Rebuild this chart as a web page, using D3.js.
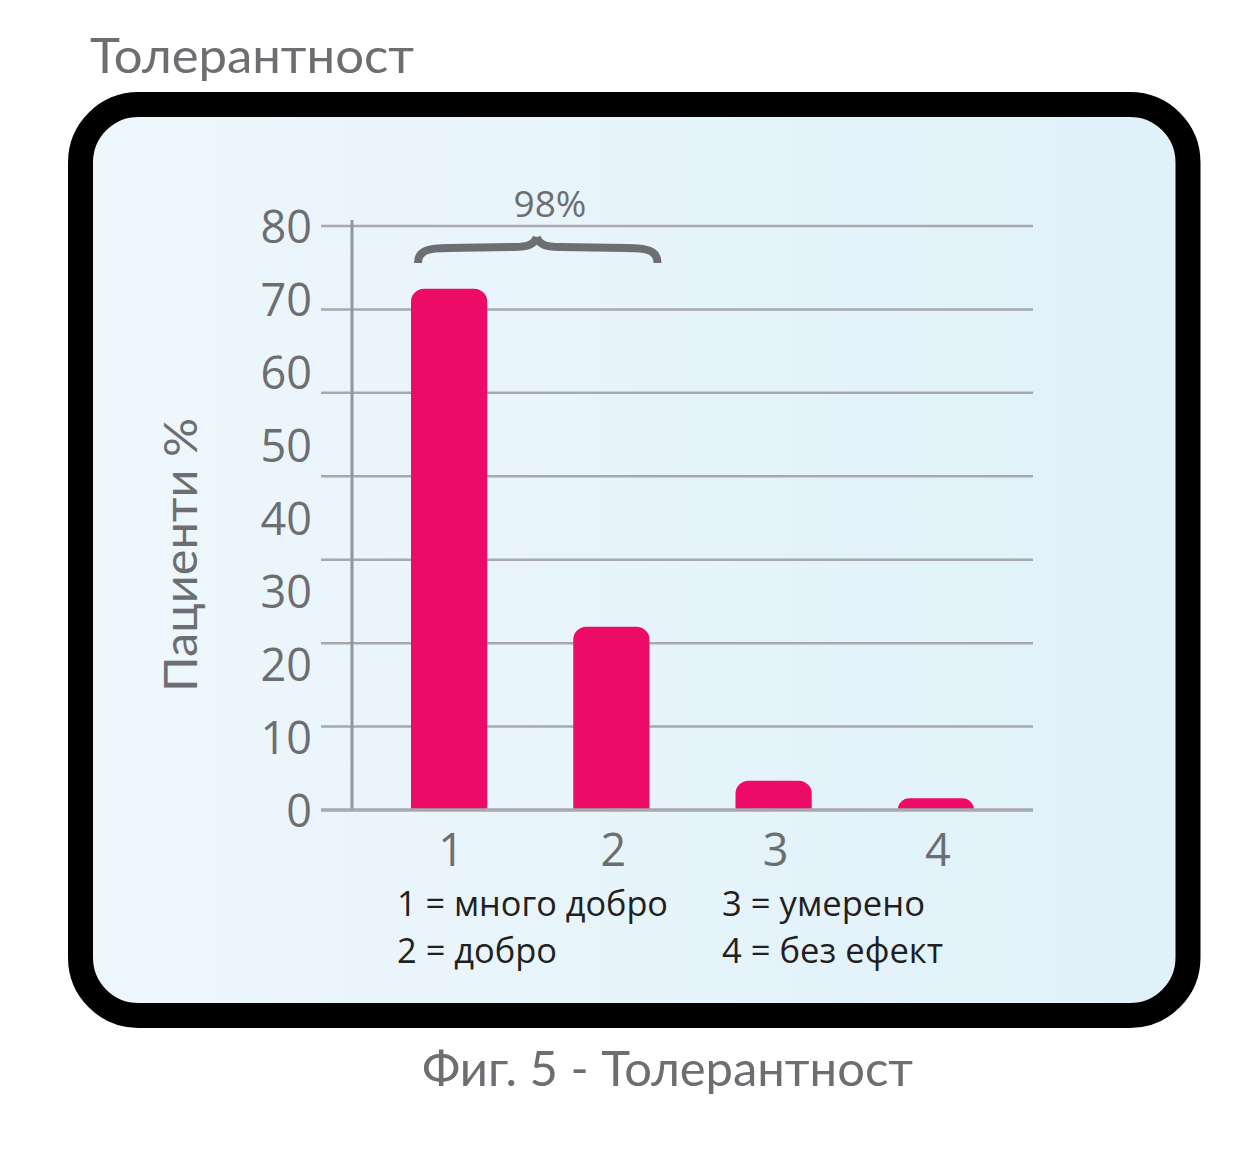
<!DOCTYPE html>
<html>
<head>
<meta charset="utf-8">
<script src="https://cdn.jsdelivr.net/npm/d3@7"></script>
<style>
  html, body { margin: 0; padding: 0; background: #ffffff; }
  svg { display: block; }
</style>
</head>
<body>
<script>
// ---- data ----
const categories = ["1", "2", "3", "4"];
const values = [71.4, 25.1, 4.0, 1.6];
const yTicks = [0, 10, 20, 30, 40, 50, 60, 70, 80];
const legendLeft = ["1 = много добро", "2 = добро"];
const legendRight = ["3 = умерено", "4 = без ефект"];
const titleText = "Толерантност";
const captionText = "Фиг. 5 - Толерантност";
const yAxisTitle = "Пациенти %";
const braceLabel = "98%";

// ---- layout ----
const W = 1251, H = 1160;
const gray = "#6d6e71", gridColor = "#a7a9ac", barColor = "#ec0c68";

const svg = d3.select("body").append("svg").attr("width", W).attr("height", H);
const defs = svg.append("defs");
const grad = defs.append("linearGradient").attr("id", "bg").attr("x1", 0).attr("x2", 1).attr("y1", 0).attr("y2", 0);
grad.append("stop").attr("offset", 0).attr("stop-color", "#eef7fc");
grad.append("stop").attr("offset", 1).attr("stop-color", "#dff1f9");

// framed panel
svg.append("rect").attr("x", 80.5).attr("y", 104.5).attr("width", 1107.5).attr("height", 911)
  .attr("rx", 58).attr("ry", 58).attr("fill", "url(#bg)").attr("stroke", "#000").attr("stroke-width", 25);

// titles
svg.append("text").attr("x", 90).attr("y", 73).text(titleText)
  .attr("font-family", "Lato, 'Open Sans', sans-serif").attr("font-size", 48).attr("fill", gray)
  .attr("textLength", 324).attr("lengthAdjust", "spacingAndGlyphs");
svg.append("text").attr("x", 422).attr("y", 1086).text(captionText)
  .attr("font-family", "Lato, 'Open Sans', sans-serif").attr("font-size", 48).attr("fill", gray)
  .attr("textLength", 491).attr("lengthAdjust", "spacingAndGlyphs");

// scales
const y = d3.scaleLinear().domain([0, 80]).range([810, 226]);
const x = d3.scaleBand().domain(categories).range([368, 1017]).paddingInner(0.53).paddingOuter(0.265);
const gridLeft = 321, gridRight = 1033, axisX = 352;

// gridlines: 8 evenly spaced lines spanning the axis
const gridN = 7;
const gridVals = d3.range(gridN + 1).map(i => i * 80 / gridN);
svg.append("g").selectAll("line").data(gridVals.filter(v => v > 0)).join("line")
  .attr("x1", gridLeft).attr("x2", gridRight)
  .attr("y1", d => y(d)).attr("y2", d => y(d))
  .attr("stroke", gridColor).attr("stroke-width", 2.5);

// y axis vertical
svg.append("line").attr("x1", axisX).attr("x2", axisX).attr("y1", y(80) - 6).attr("y2", y(0))
  .attr("stroke", "#939598").attr("stroke-width", 3);

// y tick labels
svg.append("g").selectAll("text").data(yTicks).join("text")
  .attr("x", 312).attr("y", d => y(d) + 1).attr("dy", "0.35em")
  .attr("text-anchor", "end").attr("font-family", "'Open Sans', sans-serif")
  .attr("font-size", 45).attr("fill", gray).text(d => d);

// bars with rounded tops
function barPath(x0, y0, w, h, r) {
  r = Math.min(r, h, w / 2);
  return `M${x0},${y0 + h}V${y0 + r}A${r},${r} 0 0 1 ${x0 + r},${y0}H${x0 + w - r}A${r},${r} 0 0 1 ${x0 + w},${y0 + r}V${y0 + h}Z`;
}
svg.append("g").selectAll("path").data(values).join("path")
  .attr("d", (d, i) => barPath(x(categories[i]), y(d), x.bandwidth(), y(0) - y(d), 13))
  .attr("fill", barColor);

// x axis line
svg.append("line").attr("x1", gridLeft).attr("x2", gridRight).attr("y1", y(0)).attr("y2", y(0))
  .attr("stroke", gridColor).attr("stroke-width", 3.5);

// x tick labels
svg.append("g").selectAll("text").data(categories).join("text")
  .attr("x", d => x(d) + x.bandwidth() / 2 + 2).attr("y", 866)
  .attr("text-anchor", "middle").attr("font-family", "'Open Sans', sans-serif")
  .attr("font-size", 45).attr("fill", gray).text(d => d);

// y axis title
svg.append("text").attr("transform", "translate(197,555) rotate(-90)")
  .attr("text-anchor", "middle").attr("font-family", "Lato, 'Open Sans', sans-serif")
  .attr("font-size", 46).attr("fill", gray).text(yAxisTitle)
  .attr("textLength", 274).attr("lengthAdjust", "spacingAndGlyphs");

// brace over bars 1 and 2
const bL = x(categories[0]) + 7, bR = x(categories[1]) + x.bandwidth() + 8;
const bC = (bL + bR) / 2 - 1;
const tipY = y(0) - 547, armY = tipY - 15, peakY = tipY - 26;
const bracePath = `M${bL},${tipY} C${bL},${armY + 2} ${bL + 11},${armY} ${bL + 31},${armY}`
  + ` L${bC - 23},${armY - 1} C${bC - 8},${armY - 1} ${bC - 2},${armY - 4} ${bC},${peakY}`
  + ` M${bC},${peakY} C${bC + 2},${armY - 4} ${bC + 8},${armY - 1} ${bC + 23},${armY - 1}`
  + ` L${bR - 31},${armY} C${bR - 11},${armY} ${bR},${armY + 2} ${bR},${tipY}`;
svg.append("path").attr("d", bracePath).attr("fill", "none")
  .attr("stroke", gray).attr("stroke-width", 8);
svg.append("text").attr("x", 550).attr("y", 217).attr("text-anchor", "middle")
  .attr("font-family", "'Open Sans', sans-serif").attr("font-size", 37).attr("fill", gray).text(braceLabel);

// legend
const legG = svg.append("g").attr("font-family", "'Open Sans', sans-serif").attr("font-size", 34).attr("fill", "#231f20");
const leftLens = [271, 160], rightLens = [203, 221];
legendLeft.forEach((t, i) => legG.append("text").attr("x", 397).attr("y", 916 + i * 47).text(t)
  .attr("textLength", leftLens[i]).attr("lengthAdjust", "spacingAndGlyphs"));
legendRight.forEach((t, i) => legG.append("text").attr("x", 722).attr("y", 916 + i * 47).text(t)
  .attr("textLength", rightLens[i]).attr("lengthAdjust", "spacingAndGlyphs"));
</script>
</body>
</html>
